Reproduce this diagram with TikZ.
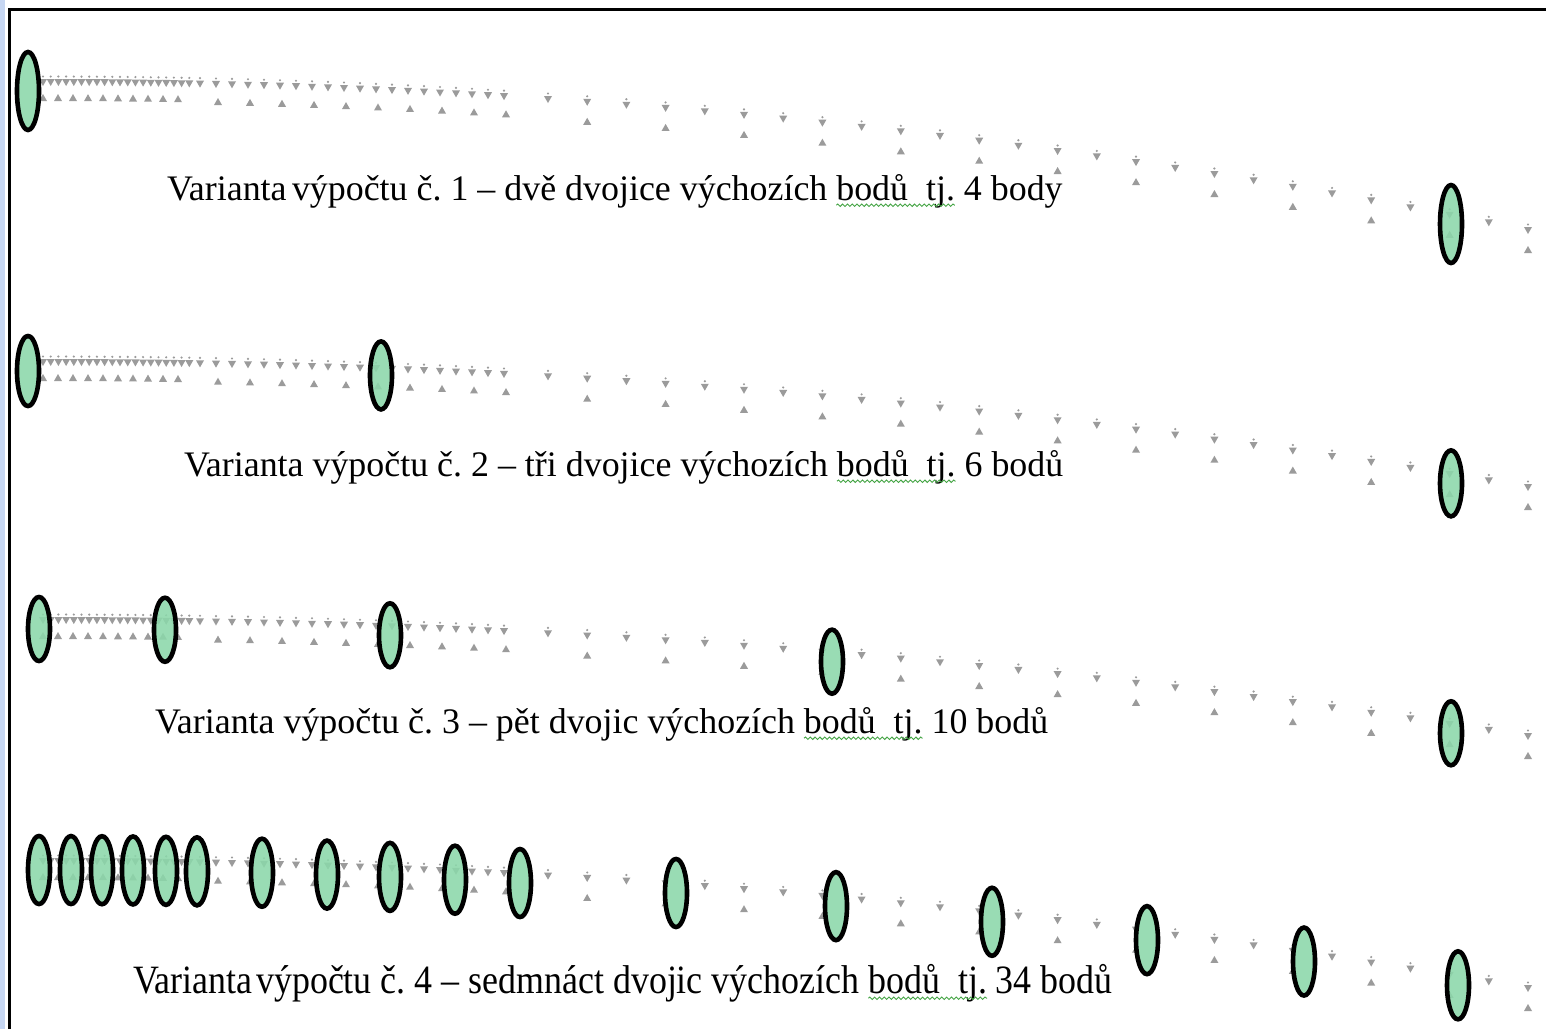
\documentclass[tikz,border=0pt]{standalone}
\usepackage{fontspec}
\setmainfont{Liberation Serif}
\usetikzlibrary{decorations.pathmorphing}
\frenchspacing

\definecolor{leaf}{RGB}{140,216,170}
\definecolor{ptgray}{RGB}{155,155,155}
\definecolor{spell}{RGB}{70,165,70}
\definecolor{sidebar}{RGB}{198,214,242}

\tikzset{
  ring/.style={draw=black, line width=2.3pt, fill=leaf, fill opacity=0.88},
  txt/.style={inner sep=0pt, outer sep=0pt, font=\fontsize{17.95}{21}\selectfont},
  wavy/.style={draw=spell, line width=0.45pt, decorate,
    decoration={snake, amplitude=0.6pt, segment length=2.4pt}},
}

% curve of one row of computed points: y = base + amp*((x-45)/1483)^2
\newcommand\upmark[2]{\fill[ptgray] (#1-4,#2-3) -- (#1+4,#2-3) -- (#1,#2+4) -- cycle;
  \fill[ptgray] (#1,#2-5.5) circle [radius=1.2];}
\newcommand\lowmark[2]{\fill[ptgray] (#1-4,#2+4) -- (#1+4,#2+4) -- (#1,#2-3) -- cycle;}
\newcommand\samplerow[2]{%
  \foreach \x in {43,50.7,...,190} {
    \pgfmathsetmacro\yy{#1+#2*((\x-45)/1483)^2}
    \upmark{\x}{\yy}
  }
  \foreach \x in {43,58,...,180} {
    \pgfmathsetmacro\yy{#1+#2*((\x-45)/1483)^2+15}
    \lowmark{\x}{\yy}
  }
  \foreach \x in {200,216,...,510} {
    \pgfmathsetmacro\yy{#1+#2*((\x-45)/1483)^2}
    \upmark{\x}{\yy}
  }
  \foreach \x in {218,250,...,510} {
    \pgfmathsetmacro\yy{#1+#2*((\x-45)/1483)^2+17}
    \lowmark{\x}{\yy}
  }
  \foreach \x in {548,587.2,...,1530} {
    \pgfmathsetmacro\yy{#1+#2*((\x-45)/1483)^2}
    \upmark{\x}{\yy}
  }
  \foreach \x in {587.2,665.6,...,1530} {
    \pgfmathsetmacro\yy{#1+#2*((\x-45)/1483)^2+19}
    \lowmark{\x}{\yy}
  }
}
% selected starting point pair: x, base, amp, vertical radius
\newcommand\pick[4]{%
  \pgfmathsetmacro\ey{#2+#3*(max(#1-45,0)/1483)^2+9}
  \draw[ring] (#1,\ey) ellipse [x radius=11, y radius=#4];}
% caption line with the spell-check underline: name, x, baseline, before, marked, after
\newcommand\legendline[6]{%
  \node[txt, anchor=base west] (#1a) at (#2,#3) {#4\kern.25em};
  \node[txt, anchor=base west] (#1b) at (#1a.base east) {#5};
  \node[txt, anchor=base west] (#1c) at (#1b.base east) {\ #6};
  \draw[wavy] ([yshift=-2.6pt]#1b.base west) -- ([yshift=-2.6pt]#1b.base east);}

\begin{document}
\begin{tikzpicture}[x=0.5pt, y=-0.5pt]
\useasboundingbox (0,0) rectangle (1546,1029);
\fill[white] (0,0) rectangle (1546,1029);
\fill[sidebar] (0,0) rectangle (5,1029);
\draw[line width=1.6pt] (9.5,1029) -- (9.5,9.5) -- (1546,9.5);

% points of the four variants
\samplerow{82}{148}
\samplerow{362}{125}
\samplerow{620}{116}
\samplerow{861}{127}

% chosen starting pairs
\pick{28}{82}{148}{39}
\pick{1451}{82}{148}{39}

\pick{28}{362}{125}{35}
\pick{381}{360}{125}{34}
\pick{1451}{362}{125}{33}

\foreach \x in {39,165,390,832,1451} {\pick{\x}{620}{116}{32}}

\foreach \x in {39,71,102,133,166,197,262,327,390,455,520,676,836,992,1147,1304,1458}
  {\pick{\x}{861}{127}{34}}

% captions
\legendline{capA}{167}{200}{Varianta\hspace{0.15em}výpočtu č. 1 – dvě dvojice výchozích}{bodů\ \ tj.}{4 body}
\legendline{capB}{184}{476}{Varianta výpočtu č. 2 – tři dvojice výchozích}{bodů\ \ tj.}{6 bodů}
\legendline{capC}{155}{733}{Varianta výpočtu č. 3 – pět dvojic výchozích}{bodů\ \ tj.}{10 bodů}
\legendline{capD}{133}{993}{\scalebox{1}[1.12]{Varianta\hspace{0.1em}výpočtu č. 4 – sedmnáct dvojic výchozích}}{\scalebox{1}[1.12]{bodů\ \ tj.}}{\scalebox{1}[1.12]{34 bodů}}
\end{tikzpicture}
\end{document}
